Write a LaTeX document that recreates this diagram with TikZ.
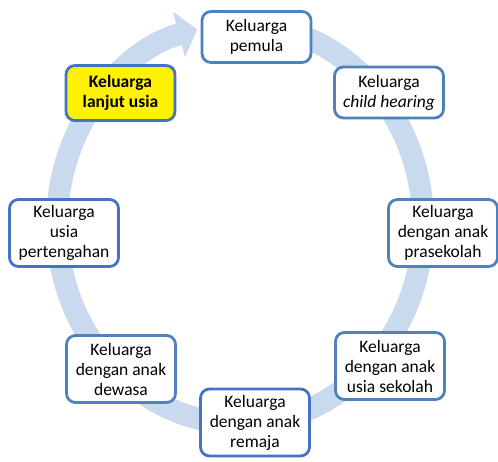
\documentclass[tikz,border=0pt]{standalone}
\usepackage{fontspec}
\setmainfont{Carlito}
\usetikzlibrary{arrows.meta}
\usetikzlibrary{shapes}
\definecolor{ringblue}{RGB}{201,218,238}
\definecolor{stageblue}{RGB}{79,129,189}
\definecolor{deepblue}{RGB}{68,114,196}
\tikzset{
  stage/.style={draw=stageblue, line width=2.8pt, rounded corners=9pt, fill=white,
    align=center, minimum width=109pt, minimum height=51pt, inner sep=2pt,
    font=\fontsize{17.5}{20}\selectfont},
  tall/.style={minimum height=67pt},
  ring/.style={draw=ringblue, line width=22pt, -{Triangle[width=46pt,length=19pt]}}
}

\begin{document}
\begin{tikzpicture}[x=1pt, y=1pt]
\useasboundingbox (0,0) rectangle (498,461);
%%% cycle arrow %%%

      \draw[ring] (287.4,430.2) arc[start angle=75, end angle=-256.5, x radius=183, y radius=200];

%%% stages %%%
      \node[stage] (pemula) at (256.5,424) { Keluarga\\ pemula };
      \node[stage] (childhearing) at (389,368.5) { Keluarga\\ \emph{child hearing} };
      \node[stage, tall] (prasekolah) at (443,228) { Keluarga\\ dengan anak\\ prasekolah };
      \node[stage, tall] (sekolah) at (390,95) { Keluarga\\ dengan anak\\ usia sekolah };
      \node[stage, tall, draw=deepblue] (remaja) at (255,38.5) { Keluarga\\ dengan anak\\ remaja };
      \node[stage, tall] (dewasa) at (121,92) { Keluarga\\ dengan anak\\ dewasa };
      \node[stage, tall, draw=deepblue] (pertengahan) at (64,228) { Keluarga\\ usia\\ pertengahan };
      %%
      \node[stage, draw=deepblue, fill=yellow, minimum height=55pt,
        font=\fontsize{17.5}{20}\selectfont\bfseries] (lanjut) at (120.5,368)
        { Keluarga\\ lanjut usia };

\end{tikzpicture}
\end{document}
